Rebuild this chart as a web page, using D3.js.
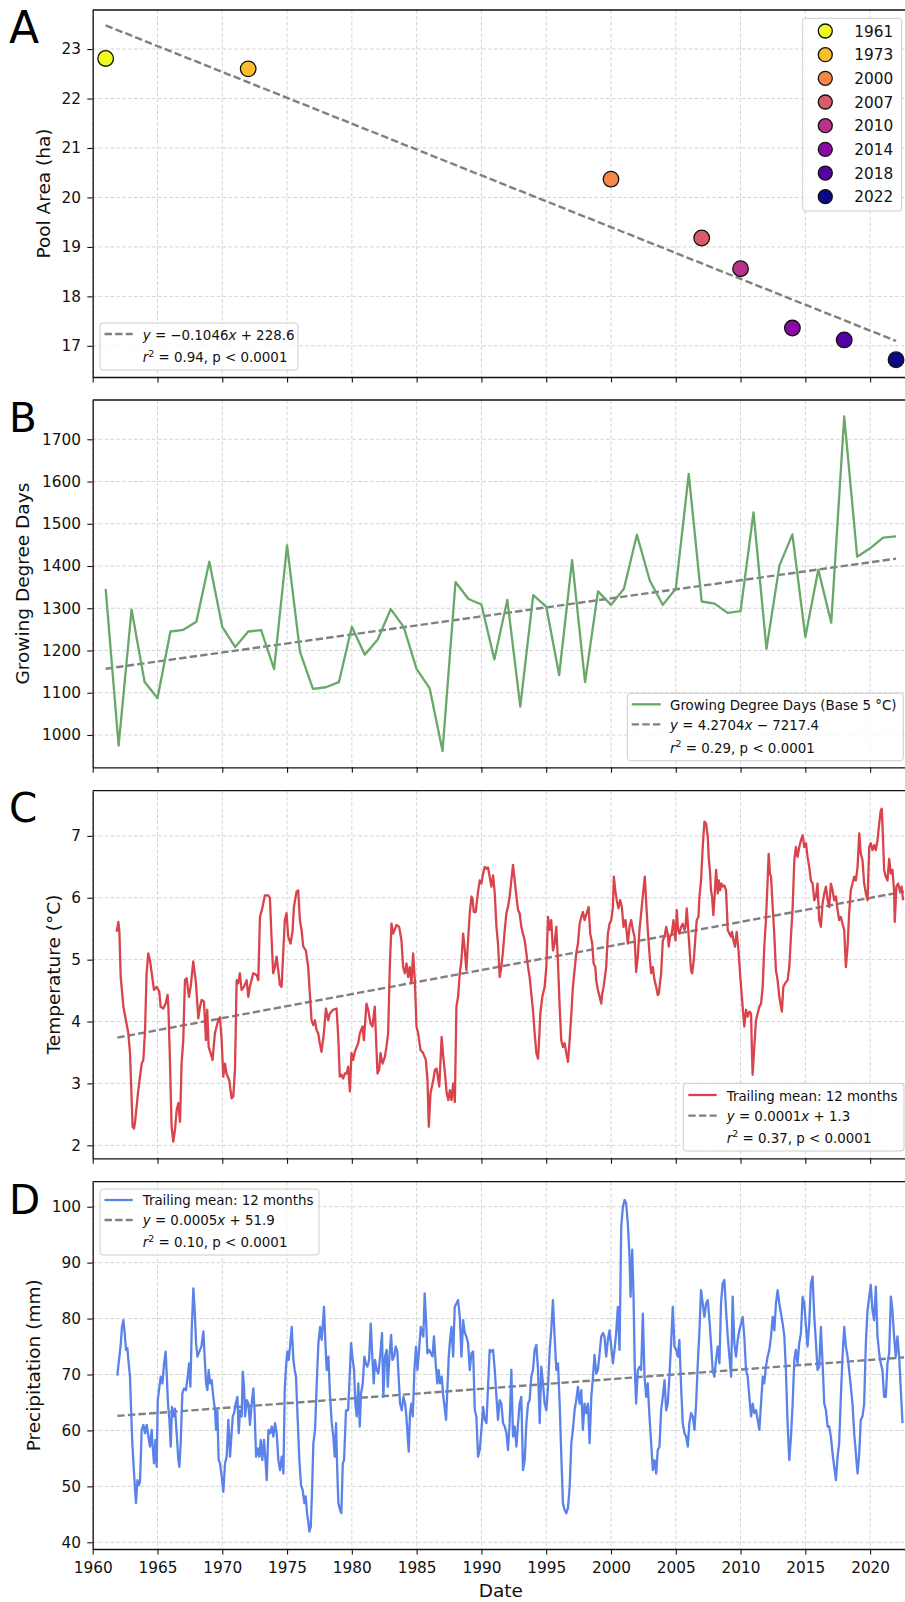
<!DOCTYPE html>
<html>
<head>
<meta charset="utf-8">
<script src="https://cdn.jsdelivr.net/npm/d3@7"></script>
<style>
  body { margin: 0; background: #fff; }
  svg { display: block; font-family: "DejaVu Sans", sans-serif; }
</style>
</head>
<body>
<div id="chart"></div>
<script>
// DATA

// A: pool area survey years
const poolYears = [1961.0, 1972.0, 2000.0, 2007.0, 2010.0, 2014.0, 2018.0, 2022.0];
const poolArea = [22.81, 22.60, 20.37, 19.18, 18.56, 17.36, 17.12, 16.72];
const poolLabels = ['1961', '1973', '2000', '2007', '2010', '2014', '2018', '2022'];
const poolFit = [-0.1046, 228.6];
const poolFitYears = [1961, 2022];

// B: growing degree days, one value per year from gddStart
const gddStart = 1961;
const gddValues = [1346, 975, 1297, 1126, 1087, 1245, 1249, 1268, 1410, 1256,
  1208, 1245, 1248, 1156, 1449, 1197, 1109, 1113, 1125, 1256,
  1190, 1226, 1298, 1256, 1156, 1111, 962, 1362, 1322, 1309,
  1179, 1320, 1067, 1331, 1304, 1142, 1414, 1125, 1340, 1308,
  1346, 1474, 1365, 1308, 1346, 1618, 1316, 1311, 1289, 1293,
  1527, 1204, 1401, 1475, 1232, 1391, 1266, 1754, 1422, 1442,
  1467, 1470];
const gddFit = [4.2704, -7217.4];

// C: temperature, 12 month trailing mean [year, degC]
const tempSeries = [
  [1961.85,5.45],[1961.98,5.61],[1962.06,5.45],[1962.16,4.72],[1962.37,4.24],[1962.75,3.81],[1962.88,3.49],
  [1963.08,2.30],[1963.19,2.27],[1963.26,2.36],[1963.52,2.89],[1963.78,3.32],[1963.91,3.38],[1964.04,3.86],
  [1964.16,4.78],[1964.29,5.10],[1964.42,4.99],[1964.63,4.67],[1964.73,4.51],[1964.94,4.56],[1965.14,4.48],
  [1965.24,4.24],[1965.45,4.21],[1965.63,4.29],[1965.78,4.43],[1965.84,4.24],[1965.96,3.38],[1966.09,2.30],
  [1966.22,2.06],[1966.35,2.25],[1966.48,2.57],[1966.61,2.68],[1966.74,2.38],[1966.86,3.32],[1966.99,3.70],
  [1967.12,4.67],[1967.25,4.70],[1967.43,4.40],[1967.56,4.56],[1967.76,4.97],[1967.97,4.62],[1968.15,4.05],
  [1968.28,4.24],[1968.41,4.35],[1968.59,4.32],[1968.74,3.70],[1968.84,4.19],[1968.95,3.59],[1969.10,3.49],
  [1969.25,3.38],[1969.43,3.81],[1969.69,4.02],[1969.82,4.07],[1969.95,3.70],[1970.08,3.11],[1970.21,3.32],
  [1970.33,3.16],[1970.54,3.05],[1970.72,2.76],[1970.85,2.79],[1970.98,3.22],[1971.11,4.67],[1971.23,4.62],
  [1971.36,4.78],[1971.49,4.51],[1971.67,4.56],[1971.88,4.67],[1972.01,4.40],[1972.13,4.56],[1972.39,4.78],
  [1972.65,4.75],[1972.78,4.67],[1972.91,5.69],[1973.11,5.85],[1973.29,6.04],[1973.55,6.04],[1973.68,5.99],
  [1973.80,5.37],[1973.93,4.78],[1974.06,4.88],[1974.19,5.05],[1974.32,4.83],[1974.45,4.59],[1974.58,4.56],
  [1974.70,5.10],[1974.83,5.64],[1974.96,5.75],[1975.09,5.37],[1975.27,5.26],[1975.42,5.45],[1975.53,5.85],
  [1975.73,6.10],[1975.86,6.12],[1975.99,5.64],[1976.12,5.48],[1976.25,5.21],[1976.45,5.15],[1976.63,4.88],
  [1976.76,4.45],[1976.89,4.02],[1977.02,3.94],[1977.15,4.02],[1977.28,3.86],[1977.40,3.81],[1977.53,3.65],
  [1977.66,3.51],[1977.84,3.81],[1978.00,4.21],[1978.18,4.02],[1978.30,4.13],[1978.56,4.19],[1978.82,4.21],
  [1978.95,3.75],[1979.07,3.11],[1979.20,3.14],[1979.33,3.08],[1979.46,3.16],[1979.59,3.16],[1979.72,3.27],
  [1979.85,2.87],[1979.97,3.49],[1980.10,3.38],[1980.23,3.51],[1980.49,3.65],[1980.62,3.81],[1980.82,3.92],
  [1980.93,3.70],[1981.13,4.29],[1981.26,4.19],[1981.44,3.97],[1981.59,3.92],[1981.77,4.24],[1981.85,3.81],
  [1981.98,3.16],[1982.11,3.22],[1982.21,3.49],[1982.37,3.32],[1982.55,3.43],[1982.67,3.59],[1982.80,3.81],
  [1982.93,4.88],[1983.06,5.58],[1983.19,5.42],[1983.45,5.56],[1983.65,5.53],[1983.83,5.31],[1983.96,4.88],
  [1984.09,4.78],[1984.22,4.94],[1984.34,4.72],[1984.47,4.88],[1984.60,4.62],[1984.73,5.10],[1984.86,4.67],
  [1984.99,3.92],[1985.12,3.81],[1985.30,3.54],[1985.50,3.49],[1985.71,3.38],[1985.84,3.05],[1985.94,2.30],
  [1986.07,2.84],[1986.28,3.05],[1986.41,3.22],[1986.54,3.24],[1986.75,2.95],[1986.93,3.75],[1987.06,3.43],
  [1987.19,3.16],[1987.32,2.84],[1987.45,2.73],[1987.56,2.89],[1987.69,2.73],[1987.82,3.00],[1987.95,2.70],
  [1988.07,4.24],[1988.20,4.40],[1988.33,4.78],[1988.46,4.99],[1988.59,5.42],[1988.72,5.15],[1988.84,4.83],
  [1988.97,5.31],[1989.10,5.75],[1989.23,6.02],[1989.31,5.99],[1989.41,5.77],[1989.56,5.77],[1989.74,6.10],
  [1989.87,6.28],[1990.00,6.23],[1990.13,6.39],[1990.26,6.50],[1990.39,6.47],[1990.51,6.49],[1990.64,6.34],
  [1990.77,6.18],[1990.90,6.36],[1991.03,6.07],[1991.16,5.53],[1991.28,5.26],[1991.41,4.72],[1991.54,4.88],
  [1991.67,5.15],[1991.80,5.48],[1991.93,5.75],[1992.05,5.85],[1992.18,6.02],[1992.31,6.28],[1992.44,6.53],
  [1992.57,6.28],[1992.70,6.02],[1992.83,5.80],[1992.95,5.75],[1993.08,5.53],[1993.21,5.42],[1993.34,5.31],
  [1993.47,5.10],[1993.60,4.88],[1993.72,4.72],[1993.85,4.45],[1993.98,4.19],[1994.11,3.81],[1994.24,3.49],
  [1994.37,3.40],[1994.44,3.65],[1994.55,4.13],[1994.70,4.40],[1994.88,4.56],[1995.01,4.88],[1995.14,5.69],
  [1995.27,5.48],[1995.39,5.64],[1995.52,5.15],[1995.65,5.26],[1995.78,5.53],[1995.91,4.94],[1996.04,4.24],
  [1996.16,3.70],[1996.29,3.59],[1996.42,3.65],[1996.55,3.49],[1996.68,3.35],[1996.81,3.70],[1996.94,4.13],
  [1997.06,4.56],[1997.19,4.83],[1997.32,5.10],[1997.45,5.26],[1997.58,5.58],[1997.71,5.69],[1997.83,5.77],
  [1997.96,5.64],[1998.27,5.85],[1998.40,5.42],[1998.55,5.26],[1998.66,4.94],[1998.79,4.88],[1998.86,4.67],
  [1998.99,4.51],[1999.12,4.40],[1999.25,4.29],[1999.32,4.45],[1999.43,4.56],[1999.63,4.88],[1999.76,5.42],
  [1999.89,5.58],[2000.02,5.64],[2000.15,5.85],[2000.22,6.34],[2000.33,6.12],[2000.45,5.96],[2000.58,5.83],
  [2000.71,5.96],[2000.84,5.85],[2000.97,5.53],[2001.12,5.64],[2001.30,5.26],[2001.43,5.53],[2001.56,5.64],
  [2001.69,5.48],[2001.82,5.37],[2001.94,4.80],[2002.07,5.05],[2002.20,5.48],[2002.33,5.75],[2002.46,6.04],
  [2002.61,6.34],[2002.72,5.91],[2002.84,5.48],[2002.97,5.10],[2003.10,4.78],[2003.23,4.88],[2003.36,4.67],
  [2003.49,4.56],[2003.61,4.43],[2003.69,4.45],[2003.87,4.78],[2004.00,5.31],[2004.13,5.37],[2004.26,5.53],
  [2004.38,5.42],[2004.46,5.21],[2004.56,5.37],[2004.69,5.42],[2004.82,5.64],[2004.98,5.31],[2005.08,5.80],
  [2005.18,5.48],[2005.28,5.42],[2005.41,5.53],[2005.54,5.58],[2005.67,5.48],[2005.75,5.53],[2005.85,5.83],
  [2005.95,5.53],[2006.05,5.21],[2006.18,4.83],[2006.26,4.78],[2006.39,4.99],[2006.52,5.37],[2006.62,5.64],
  [2006.75,5.69],[2006.83,6.02],[2006.95,6.28],[2007.08,6.82],[2007.21,7.23],[2007.34,7.20],[2007.47,6.98],
  [2007.54,6.66],[2007.65,6.39],[2007.72,6.12],[2007.80,6.02],[2007.90,5.72],[2008.01,6.07],[2008.11,6.45],
  [2008.24,6.07],[2008.32,6.28],[2008.42,6.12],[2008.52,6.23],[2008.62,6.18],[2008.75,6.20],[2008.88,6.12],
  [2009.01,5.48],[2009.14,5.42],[2009.27,5.37],[2009.34,5.45],[2009.45,5.31],[2009.57,5.21],[2009.70,5.45],
  [2009.83,5.18],[2009.96,4.78],[2010.04,4.56],[2010.16,4.24],[2010.29,3.92],[2010.42,4.19],[2010.55,4.08],
  [2010.68,4.16],[2010.81,4.13],[2010.88,3.49],[2010.93,3.14],[2011.06,3.59],[2011.19,4.02],[2011.32,4.13],
  [2011.45,4.24],[2011.58,4.29],[2011.71,4.56],[2011.83,5.21],[2011.96,5.64],[2012.09,6.28],[2012.17,6.71],
  [2012.27,6.39],[2012.35,6.34],[2012.48,5.85],[2012.60,5.42],[2012.73,4.83],[2012.86,4.67],[2012.99,4.40],
  [2013.12,4.24],[2013.19,4.16],[2013.30,4.56],[2013.45,4.62],[2013.63,4.67],[2013.76,4.88],[2013.89,5.37],
  [2014.02,5.85],[2014.15,6.61],[2014.27,6.82],[2014.40,6.66],[2014.53,6.82],[2014.66,6.93],[2014.79,7.01],
  [2014.92,6.82],[2015.05,6.88],[2015.17,6.66],[2015.30,6.50],[2015.43,6.28],[2015.56,6.23],[2015.69,5.96],
  [2015.82,6.02],[2015.94,6.23],[2016.07,5.64],[2016.20,5.53],[2016.33,5.91],[2016.46,6.07],[2016.59,6.18],
  [2016.72,5.96],[2016.84,5.85],[2016.97,6.23],[2017.10,6.12],[2017.23,5.96],[2017.36,6.02],[2017.49,5.80],
  [2017.61,5.64],[2017.74,5.69],[2017.87,5.58],[2018.00,5.48],[2018.13,4.88],[2018.26,5.21],[2018.38,5.75],
  [2018.51,6.12],[2018.64,6.23],[2018.77,6.34],[2018.90,6.28],[2019.03,6.50],[2019.16,7.04],[2019.28,6.71],
  [2019.41,6.61],[2019.54,6.23],[2019.67,6.07],[2019.80,5.96],[2019.93,6.82],[2020.05,6.88],[2020.18,6.77],
  [2020.31,6.85],[2020.44,6.77],[2020.57,6.93],[2020.70,7.20],[2020.82,7.41],[2020.90,7.44],[2021.00,6.93],
  [2021.08,6.45],[2021.21,6.34],[2021.34,6.28],[2021.47,6.63],[2021.60,6.39],[2021.72,6.45],[2021.85,6.12],
  [2021.90,5.61],[2022.03,6.18],[2022.16,6.23],[2022.29,6.12],[2022.42,6.18],[2022.55,5.96]
];
const tempTrend = [[1961.9, 3.74], [2022.62, 6.10]];

// D: precipitation, 12 month trailing mean [year, mm]
const precSeries = [
  [1961.90,69.8],[1962.06,73.2],[1962.16,75.3],[1962.26,78.5],[1962.37,79.7],[1962.47,77.4],[1962.57,74.4],
  [1962.68,74.7],[1962.75,72.6],[1962.88,69.6],[1962.96,63.9],[1963.06,57.7],[1963.16,53.5],[1963.27,49.3],
  [1963.34,47.0],[1963.45,51.1],[1963.55,50.2],[1963.65,50.8],[1963.78,60.1],[1963.91,61.0],[1964.04,59.5],
  [1964.17,61.0],[1964.30,58.9],[1964.42,57.1],[1964.55,60.1],[1964.63,57.1],[1964.73,54.1],[1964.84,58.3],
  [1964.94,53.5],[1965.02,65.4],[1965.15,67.8],[1965.25,69.6],[1965.38,68.4],[1965.51,72.0],[1965.63,74.1],
  [1965.71,70.2],[1965.81,64.8],[1965.92,61.9],[1966.02,57.1],[1966.12,64.2],[1966.23,62.5],[1966.35,63.9],
  [1966.48,59.5],[1966.61,54.7],[1966.69,53.5],[1966.79,57.7],[1966.92,66.6],[1967.05,67.5],[1967.20,67.2],
  [1967.33,69.6],[1967.44,72.0],[1967.54,67.8],[1967.64,77.9],[1967.77,85.4],[1967.87,81.5],[1967.98,75.6],
  [1968.08,73.2],[1968.23,74.1],[1968.39,75.0],[1968.54,77.7],[1968.64,73.2],[1968.75,68.4],[1968.85,67.2],
  [1968.95,70.8],[1969.06,68.4],[1969.18,69.0],[1969.31,66.0],[1969.44,63.6],[1969.52,60.1],[1969.62,63.6],
  [1969.72,54.7],[1969.83,54.1],[1969.96,51.7],[1970.08,49.0],[1970.21,54.1],[1970.34,55.3],[1970.47,61.9],
  [1970.60,55.3],[1970.70,58.9],[1970.81,62.5],[1970.91,63.1],[1971.04,64.8],[1971.17,66.0],[1971.27,59.5],
  [1971.37,63.6],[1971.50,62.5],[1971.58,70.5],[1971.68,67.8],[1971.76,62.5],[1971.89,65.4],[1972.01,64.8],
  [1972.14,61.0],[1972.27,64.8],[1972.40,67.5],[1972.50,63.1],[1972.61,55.3],[1972.73,56.8],[1972.86,55.3],
  [1972.97,58.3],[1973.09,54.7],[1973.22,58.3],[1973.35,54.1],[1973.43,51.1],[1973.56,60.1],[1973.69,59.5],
  [1973.82,60.7],[1973.94,58.9],[1974.07,61.3],[1974.20,59.5],[1974.33,54.7],[1974.46,52.9],[1974.59,55.3],
  [1974.72,52.3],[1974.82,67.2],[1974.92,71.4],[1975.02,74.1],[1975.13,72.6],[1975.23,75.0],[1975.36,78.5],
  [1975.49,72.6],[1975.59,70.8],[1975.69,69.6],[1975.82,61.9],[1975.95,54.7],[1976.08,50.2],[1976.21,49.3],
  [1976.34,47.0],[1976.44,48.2],[1976.54,45.2],[1976.65,43.4],[1976.72,41.9],[1976.83,42.8],[1976.93,49.3],
  [1977.03,57.7],[1977.16,60.1],[1977.29,68.4],[1977.42,75.6],[1977.55,78.5],[1977.67,76.2],[1977.75,78.5],
  [1977.85,82.1],[1977.96,75.6],[1978.06,70.8],[1978.19,73.2],[1978.32,66.0],[1978.45,61.3],[1978.57,58.9],
  [1978.68,55.3],[1978.78,61.3],[1978.88,52.3],[1978.96,47.0],[1979.09,45.8],[1979.19,45.2],[1979.30,54.1],
  [1979.40,54.7],[1979.55,63.6],[1979.71,63.6],[1979.81,68.4],[1979.94,75.6],[1980.07,72.6],[1980.17,70.8],
  [1980.27,64.8],[1980.38,62.5],[1980.50,68.4],[1980.61,60.7],[1980.71,66.6],[1980.84,68.4],[1980.97,73.2],
  [1981.07,72.0],[1981.20,71.4],[1981.33,72.6],[1981.46,79.1],[1981.58,73.2],[1981.69,68.4],[1981.79,72.6],
  [1981.92,70.8],[1982.05,70.2],[1982.18,73.2],[1982.33,77.4],[1982.43,66.0],[1982.56,73.2],[1982.69,74.4],
  [1982.77,67.8],[1982.90,73.2],[1983.03,77.1],[1983.13,72.6],[1983.26,73.2],[1983.39,75.0],[1983.51,74.1],
  [1983.64,68.4],[1983.72,64.8],[1983.85,63.6],[1983.98,66.0],[1984.11,64.8],[1984.21,62.5],[1984.31,58.9],
  [1984.39,56.2],[1984.49,63.1],[1984.59,64.8],[1984.70,62.5],[1984.83,70.8],[1984.95,75.0],[1985.06,70.8],
  [1985.19,74.4],[1985.32,78.5],[1985.42,77.4],[1985.52,76.8],[1985.62,84.5],[1985.73,79.7],[1985.83,73.8],
  [1985.96,74.4],[1986.09,73.8],[1986.22,73.2],[1986.34,76.8],[1986.47,72.0],[1986.60,68.4],[1986.70,70.8],
  [1986.81,68.4],[1986.94,69.6],[1987.06,66.0],[1987.19,63.6],[1987.27,61.9],[1987.37,67.2],[1987.48,73.2],
  [1987.56,75.6],[1987.69,78.5],[1987.82,73.2],[1987.94,82.1],[1988.07,82.7],[1988.20,83.3],[1988.33,80.3],
  [1988.46,73.2],[1988.59,79.7],[1988.72,77.4],[1988.84,76.8],[1988.97,75.6],[1989.10,70.8],[1989.23,73.8],
  [1989.36,74.1],[1989.49,63.6],[1989.61,62.5],[1989.74,55.3],[1989.87,56.5],[1990.00,60.1],[1990.13,64.2],
  [1990.26,61.9],[1990.39,61.3],[1990.51,67.8],[1990.64,74.4],[1990.77,74.1],[1990.90,74.4],[1991.03,70.8],
  [1991.16,66.0],[1991.28,61.9],[1991.41,65.4],[1991.54,64.8],[1991.67,61.3],[1991.80,60.7],[1991.93,59.5],
  [1992.05,56.5],[1992.18,61.3],[1992.31,70.8],[1992.44,58.9],[1992.57,60.7],[1992.70,57.1],[1992.83,61.3],
  [1992.95,64.8],[1993.08,66.0],[1993.21,52.9],[1993.34,54.7],[1993.47,61.3],[1993.60,64.8],[1993.72,65.4],
  [1993.85,69.6],[1993.98,70.8],[1994.11,74.4],[1994.24,75.3],[1994.37,70.8],[1994.50,61.3],[1994.62,71.4],
  [1994.75,68.4],[1994.88,64.8],[1995.01,63.6],[1995.14,67.8],[1995.27,74.4],[1995.39,77.9],[1995.52,83.3],
  [1995.65,76.8],[1995.78,70.8],[1995.91,72.0],[1996.04,64.8],[1996.16,55.9],[1996.29,47.0],[1996.42,45.8],
  [1996.55,45.2],[1996.68,46.1],[1996.81,49.9],[1996.94,57.7],[1997.06,60.1],[1997.19,63.6],[1997.32,65.4],
  [1997.45,67.8],[1997.58,64.8],[1997.71,67.2],[1997.83,60.1],[1997.96,64.8],[1998.09,63.1],[1998.22,64.8],
  [1998.35,57.7],[1998.48,66.0],[1998.61,69.6],[1998.73,73.5],[1998.86,70.2],[1998.99,70.8],[1999.12,73.8],
  [1999.25,76.8],[1999.38,77.4],[1999.50,76.8],[1999.63,73.2],[1999.76,76.2],[1999.89,77.9],[2000.02,75.0],
  [2000.15,72.0],[2000.27,74.4],[2000.40,77.4],[2000.53,82.1],[2000.66,74.4],[2000.79,96.4],[2000.92,100.0],
  [2001.05,101.2],[2001.17,100.6],[2001.30,97.0],[2001.43,91.1],[2001.51,83.9],[2001.64,92.3],[2001.74,83.9],
  [2001.84,70.8],[2001.94,64.8],[2002.07,70.8],[2002.20,71.4],[2002.33,70.8],[2002.46,80.9],[2002.59,69.6],
  [2002.72,66.0],[2002.84,68.4],[2002.97,62.5],[2003.10,57.7],[2003.23,52.9],[2003.36,54.7],[2003.49,52.3],
  [2003.61,56.5],[2003.74,57.1],[2003.87,63.6],[2004.00,66.0],[2004.13,69.0],[2004.26,63.6],[2004.38,64.8],
  [2004.51,69.6],[2004.64,75.6],[2004.77,82.1],[2004.90,75.0],[2005.03,74.4],[2005.16,73.2],[2005.28,76.2],
  [2005.41,67.8],[2005.54,61.3],[2005.67,59.5],[2005.80,58.9],[2005.93,57.1],[2006.05,61.3],[2006.18,63.1],
  [2006.31,62.5],[2006.44,60.1],[2006.57,64.8],[2006.70,72.0],[2006.83,77.9],[2006.95,85.1],[2007.08,82.7],
  [2007.21,80.3],[2007.34,82.7],[2007.47,83.3],[2007.60,79.7],[2007.72,75.6],[2007.85,70.8],[2007.98,69.6],
  [2008.11,72.6],[2008.24,75.0],[2008.37,72.0],[2008.49,82.7],[2008.62,86.3],[2008.75,86.9],[2008.88,81.5],
  [2009.01,76.8],[2009.14,73.2],[2009.27,69.6],[2009.39,83.9],[2009.52,75.6],[2009.65,73.2],[2009.78,76.2],
  [2009.91,77.9],[2010.04,79.1],[2010.16,80.3],[2010.29,76.8],[2010.42,70.8],[2010.55,69.6],[2010.68,66.0],
  [2010.81,62.5],[2010.94,64.8],[2011.06,63.1],[2011.19,63.6],[2011.32,61.9],[2011.45,60.1],[2011.58,64.8],
  [2011.71,69.6],[2011.83,68.4],[2011.96,71.4],[2012.09,73.2],[2012.22,74.4],[2012.35,76.8],[2012.48,80.3],
  [2012.61,77.9],[2012.73,82.7],[2012.86,85.1],[2012.99,82.7],[2013.12,80.9],[2013.25,79.1],[2013.38,76.8],
  [2013.50,70.8],[2013.63,61.3],[2013.76,54.7],[2013.89,58.9],[2014.02,64.8],[2014.15,72.6],[2014.27,74.4],
  [2014.40,72.0],[2014.53,75.6],[2014.66,77.4],[2014.79,83.9],[2014.92,82.7],[2015.05,78.5],[2015.17,75.0],
  [2015.30,79.1],[2015.43,86.3],[2015.56,87.5],[2015.69,80.3],[2015.82,75.6],[2015.94,70.8],[2016.07,71.4],
  [2016.20,78.5],[2016.33,72.0],[2016.46,64.8],[2016.59,63.6],[2016.72,60.7],[2016.84,60.7],[2016.97,58.9],
  [2017.10,55.9],[2017.23,53.5],[2017.36,51.1],[2017.49,55.3],[2017.61,57.7],[2017.74,66.0],[2017.87,73.2],
  [2018.00,78.5],[2018.13,75.0],[2018.26,73.2],[2018.38,70.8],[2018.51,67.8],[2018.64,64.8],[2018.77,59.5],
  [2018.90,55.9],[2019.03,52.3],[2019.16,55.9],[2019.28,61.9],[2019.41,62.5],[2019.54,64.8],[2019.67,75.6],
  [2019.80,81.5],[2019.93,83.9],[2020.05,86.0],[2020.18,81.5],[2020.31,79.7],[2020.44,85.7],[2020.57,76.8],
  [2020.70,73.8],[2020.82,72.0],[2020.95,70.8],[2021.08,66.0],[2021.21,66.0],[2021.34,72.0],[2021.47,73.8],
  [2021.60,83.9],[2021.72,81.5],[2021.85,76.8],[2021.98,73.2],[2022.11,76.8],[2022.24,73.2],[2022.37,67.2],
  [2022.50,61.3]
];
const precTrend = [[1961.9, 62.6], [2022.62, 73.06]];

// axes ticks and labels
const xTicks = [1960, 1965, 1970, 1975, 1980, 1985, 1990, 1995, 2000, 2005, 2010, 2015, 2020];
const poolTicks = [17, 18, 19, 20, 21, 22, 23];
const gddTicks = [1000, 1100, 1200, 1300, 1400, 1500, 1600, 1700];
const tempTicks = [2, 3, 4, 5, 6, 7];
const precTicks = [40, 50, 60, 70, 80, 90, 100];

const fitA = ['−0.1046', '+ 228.6', '0.94'];
const fitB = ['4.2704', '− 7217.4', '0.29'];
const fitC = ['0.0001', '+ 1.3', '0.37'];
const fitD = ['0.0005', '+ 51.9', '0.10'];
const gddName = 'Growing Degree Days (Base 5 °C)';
const trailName = 'Trailing mean: 12 months';

// LAYOUT

const width = 905;
const height = 1602;
const left = 92.7;
const right = 909;
const tickFont = 15.3;
const legFont = 13.4;
const ink = '#111';
const green = '#68a868';
const red = '#d9434b';
const blue = '#5a82e8';

const svg = d3.select('#chart')
    .append('svg')
        .attr('width', width)
        .attr('height', height);

svg.append('rect').attr('width', width).attr('height', height).attr('fill', '#fff');

const x = d3.scaleLinear()
    .domain([1960, 2023])
    .range([left, right]);

function panel(p) {
    const y = d3.scaleLinear()
        .domain(p.domain)
        .range([p.bottom, p.top]);
    const g = svg.append('g');

    // grid
    g.append('g').selectAll('line').data(xTicks).join('line')
        .attr('x1', d => x(d)).attr('x2', d => x(d))
        .attr('y1', p.top).attr('y2', p.bottom)
        .attr('stroke', '#d4d4d4').attr('stroke-width', 1)
        .attr('stroke-dasharray', '3.7,2.2');
    g.append('g').selectAll('line').data(p.ticks).join('line')
        .attr('x1', left).attr('x2', right)
        .attr('y1', d => y(d)).attr('y2', d => y(d))
        .attr('stroke', '#d4d4d4').attr('stroke-width', 1)
        .attr('stroke-dasharray', '3.7,2.2');

    const clipId = 'clip-' + p.letter;
    svg.append('clipPath').attr('id', clipId)
        .append('rect')
            .attr('x', left).attr('y', p.top)
            .attr('width', right - left).attr('height', p.bottom - p.top);
    const plot = g.append('g').attr('clip-path', `url(#${clipId})`);

    // spines and axes
    const yAxis = g.append('g')
        .attr('transform', `translate(${left},0)`)
        .call(d3.axisLeft(y).tickValues(p.ticks).tickSize(5.4).tickSizeOuter(0).tickPadding(6.3)
            .tickFormat(d3.format('d')));
    const xAxis = g.append('g')
        .attr('transform', `translate(0,${p.bottom})`)
        .call(d3.axisBottom(x).tickValues(xTicks).tickSize(5.4).tickSizeOuter(0).tickPadding(8.2)
            .tickFormat(p.xLabels ? d3.format('d') : () => ''));
    [yAxis, xAxis].forEach(a => {
        a.attr('font-family', null).attr('font-size', tickFont).attr('color', ink);
        a.select('.domain').attr('stroke-width', 1.3);
        a.selectAll('.tick line').attr('stroke-width', 1.1);
    });
    g.append('line')
        .attr('x1', left).attr('x2', right)
        .attr('y1', p.top).attr('y2', p.top)
        .attr('stroke', ink).attr('stroke-width', 1.3);

    // y label and panel letter
    g.append('text')
        .attr('transform', `translate(${p.labelX},${(p.top + p.bottom) / 2}) rotate(-90)`)
        .attr('text-anchor', 'middle')
        .attr('font-size', 18.5)
        .attr('fill', ink)
        .text(p.label);
    g.append('text')
        .attr('x', 9)
        .attr('y', p.letterY)
        .attr('font-size', p.letterSize)
        .attr('fill', '#000')
        .text(p.letter);

    return {y, g, plot};
}

function legendFrame(g, x0, y0, w, h) {
    g.append('rect')
        .attr('x', x0).attr('y', y0)
        .attr('width', w).attr('height', h)
        .attr('rx', 3)
        .attr('fill', '#fff').attr('fill-opacity', 0.8)
        .attr('stroke', '#cccccc').attr('stroke-width', 1);
}

function sample(g, x0, x1, yy, color, dashed) {
    g.append('line')
        .attr('x1', x0).attr('x2', x1)
        .attr('y1', yy).attr('y2', yy)
        .attr('stroke', color)
        .attr('stroke-width', 2.3)
        .attr('stroke-dasharray', dashed ? '7.4,3.2' : null);
}

function fitLines(g, tx, y1, y2, fit) {
    const t1 = g.append('text')
        .attr('x', tx).attr('y', y1)
        .attr('font-size', legFont).attr('fill', ink);
    t1.append('tspan').attr('font-style', 'italic').text('y');
    t1.append('tspan').text(' = ' + fit[0]);
    t1.append('tspan').attr('font-style', 'italic').text('x');
    t1.append('tspan').text(' ' + fit[1]);

    const t2 = g.append('text')
        .attr('x', tx).attr('y', y2)
        .attr('font-size', legFont).attr('fill', ink);
    t2.append('tspan').attr('font-style', 'italic').text('r');
    t2.append('tspan').attr('dy', -5.5).attr('font-size', 9.5).text('2');
    t2.append('tspan').attr('dy', 5.5).text(' = ' + fit[2] + ', p < 0.0001');
}

function trendPath(plot, y, pts) {
    plot.append('path')
        .datum(pts)
        .attr('fill', 'none')
        .attr('stroke', '#808080')
        .attr('stroke-width', 2.4)
        .attr('stroke-dasharray', '7.4,3.2')
        .attr('d', d3.line().x(d => x(d[0])).y(d => y(d[1])));
}

function seriesPath(plot, y, pts, color) {
    plot.append('path')
        .datum(pts)
        .attr('fill', 'none')
        .attr('stroke', color)
        .attr('stroke-width', 2.3)
        .attr('stroke-linejoin', 'round')
        .attr('d', d3.line().x(d => x(d[0])).y(d => y(d[1])));
}

// PANEL A
const pa = panel({letter: 'A', top: 10, bottom: 377, domain: [16.37, 23.79], ticks: poolTicks,
    label: 'Pool Area (ha)', labelX: 50, letterY: 42.7, letterSize: 44});
trendPath(pa.plot, pa.y, poolFitYears.map(t => [t, poolFit[0] * t + poolFit[1]]));
const plasma = i => d3.interpolatePlasma(1 - i / (poolYears.length - 1));
pa.plot.selectAll('circle').data(poolYears).join('circle')
    .attr('cx', d => x(d))
    .attr('cy', (d, i) => pa.y(poolArea[i]))
    .attr('r', 7.8)
    .attr('fill', (d, i) => plasma(i))
    .attr('stroke', '#111').attr('stroke-width', 1.3);

legendFrame(pa.g, 802.7, 18.3, 99, 192.7);
const rowA = d3.scaleLinear().domain([0, 7]).range([31, 196.7]);
pa.g.append('g').selectAll('circle').data(poolLabels).join('circle')
    .attr('cx', 825.3).attr('cy', (d, i) => rowA(i))
    .attr('r', 7)
    .attr('fill', (d, i) => plasma(i))
    .attr('stroke', '#111').attr('stroke-width', 1.3);
pa.g.append('g').selectAll('text').data(poolLabels).join('text')
    .attr('x', 854.3).attr('y', (d, i) => rowA(i) + 5.7)
    .attr('font-size', tickFont).attr('fill', ink)
    .text(d => d);

legendFrame(pa.g, 100, 323, 198, 47);
sample(pa.g, 104.5, 132.7, 334, '#808080', true);
fitLines(pa.g, 142.7, 340, 362.3, fitA);

// PANEL B
const pb = panel({letter: 'B', top: 400, bottom: 767.3, domain: [923.5, 1793], ticks: gddTicks,
    label: 'Growing Degree Days', labelX: 29, letterY: 432.3, letterSize: 40.5});
trendPath(pb.plot, pb.y, poolFitYears.map(t => [t, gddFit[0] * t + gddFit[1]]));
seriesPath(pb.plot, pb.y, gddValues.map((v, i) => [gddStart + i, v]), green);

legendFrame(pb.g, 627.3, 693.3, 276, 67.4);
sample(pb.g, 631.7, 660.7, 704.3, green, false);
sample(pb.g, 631.7, 660.7, 724.3, '#808080', true);
pb.g.append('text')
    .attr('x', 670).attr('y', 710)
    .attr('font-size', legFont).attr('fill', ink)
    .text(gddName);
fitLines(pb.g, 670, 730, 752.7, fitB);

// PANEL C
const pc = panel({letter: 'C', top: 790.7, bottom: 1158.3, domain: [1.79, 7.73], ticks: tempTicks,
    label: 'Temperature (°C)', labelX: 59.5, letterY: 822.3, letterSize: 40.5});
trendPath(pc.plot, pc.y, tempTrend);
seriesPath(pc.plot, pc.y, tempSeries, red);

legendFrame(pc.g, 683.3, 1083.3, 220.7, 67.7);
sample(pc.g, 688.3, 716.7, 1095, red, false);
sample(pc.g, 688.3, 716.7, 1115.7, '#808080', true);
pc.g.append('text')
    .attr('x', 726.7).attr('y', 1100.5)
    .attr('font-size', legFont).attr('fill', ink)
    .text(trailName);
fitLines(pc.g, 726.7, 1120.7, 1142.7, fitC);

// PANEL D
const pd = panel({letter: 'D', top: 1181.7, bottom: 1549, domain: [38.8, 104.47], ticks: precTicks,
    label: 'Precipitation (mm)', labelX: 39.5, letterY: 1214.3, letterSize: 40.5, xLabels: true});
trendPath(pd.plot, pd.y, precTrend);
seriesPath(pd.plot, pd.y, precSeries, blue);

legendFrame(pd.g, 100, 1189, 219, 66);
sample(pd.g, 104.5, 132.7, 1200, blue, false);
sample(pd.g, 104.5, 132.7, 1220, '#808080', true);
pd.g.append('text')
    .attr('x', 142.7).attr('y', 1205.3)
    .attr('font-size', legFont).attr('fill', ink)
    .text(trailName);
fitLines(pd.g, 142.7, 1225.3, 1247.3, fitD);

svg.append('text')
    .attr('x', (left + right) / 2)
    .attr('y', 1597)
    .attr('text-anchor', 'middle')
    .attr('font-size', 18.5)
    .attr('fill', ink)
    .text('Date');
</script>
</body>
</html>
